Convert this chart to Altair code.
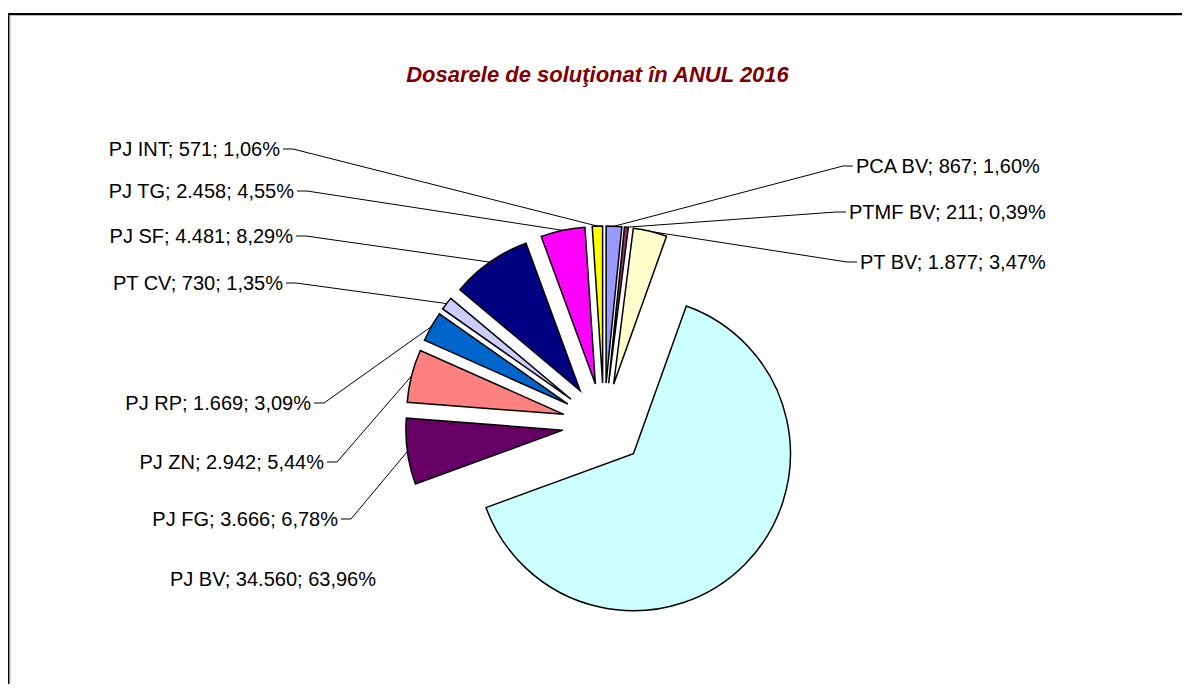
import altair as alt
import pandas as pd

# ---------------- data ----------------
categories = ["PCA BV", "PTMF BV", "PT BV", "PJ BV", "PJ FG", "PJ ZN",
              "PJ RP", "PT CV", "PJ SF", "PJ TG", "PJ INT"]
values = [867, 211, 1877, 34560, 3666, 2942, 1669, 730, 4481, 2458, 571]
colors = ["#9999FF", "#993366", "#FFFFCC", "#CCFFFF", "#660066", "#FF8080",
          "#0066CC", "#CCCCFF", "#000080", "#FF00FF", "#FFFF00"]
title_text = "Dosarele de soluţionat în ANUL 2016"

# ---------------- layout (pixels inside the chart) ----------------
W, H = 1174, 676
CX, CY = 596, 416.5          # pie centre
R = 157                      # pie radius
EXPLODE = 41.5               # explosion distance of every slice
# label anchor: inner text edge x and centre y; side of the pie the label sits on
label_edge_x = [848, 841, 852, 368, 330, 316, 303, 275, 285, 286, 272]
label_y = [159, 205, 255, 572, 512, 455, 396, 276, 229, 184, 142]
label_side = ["R", "R", "R", "L", "L", "L", "L", "L", "L", "L", "L"]
has_leader = [True, True, True, False, True, True, True, True, True, True, True]

df = pd.DataFrame({
    "idx": list(range(len(categories))),
    "cat": categories,
    "value": values,
    "lx": label_edge_x,
    "ly": label_y,
    "side": label_side,
    "lead": has_leader,
})

base = (
    alt.Chart(df)
    .transform_window(cum="sum(value)", frame=[None, 0], sort=[alt.SortField("idx")])
    .transform_joinaggregate(total="sum(value)")
    .transform_calculate(
        t1="datum.cum / datum.total * 2 * PI",
        t0="(datum.cum - datum.value) / datum.total * 2 * PI",
        mid="(datum.t0 + datum.t1) / 2",
        ax=f"{CX} + {EXPLODE} * sin(datum.mid)",
        ay=f"{CY} - {EXPLODE} * cos(datum.mid)",
        sx=f"datum.ax + {R} * sin(datum.mid)",
        sy=f"datum.ay - {R} * cos(datum.mid)",
        pct="datum.value / datum.total * 100",
        label="datum.cat + '; ' + replace(format(datum.value, ','), ',', '.') + '; ' + replace(format(datum.pct, '.2f'), '.', ',') + '%'",
        dir="datum.side == 'R' ? -1 : 1",
        tx0="datum.lx + datum.dir * 3",
        tx1="datum.lx + datum.dir * 13",
        tyl="datum.ly - 1",
    )
)

pie = base.mark_arc(outerRadius=R, innerRadius=0, stroke="black", strokeWidth=1.5).encode(
    x=alt.X("ax:Q", scale=None, axis=None),
    y=alt.Y("ay:Q", scale=None, axis=None),
    theta=alt.Theta("t0:Q", scale=None, stack=False),
    theta2=alt.Theta2("t1:Q"),
    color=alt.Color("cat:N", scale=alt.Scale(domain=categories, range=colors), legend=None),
)

leader_base = base.transform_filter("datum.lead")
ticks = leader_base.mark_rule(color="black", strokeWidth=1).encode(
    x=alt.X("tx0:Q", scale=None, axis=None),
    x2="tx1:Q",
    y=alt.Y("tyl:Q", scale=None, axis=None),
)
diag = leader_base.mark_rule(color="black", strokeWidth=1).encode(
    x=alt.X("tx1:Q", scale=None, axis=None),
    y=alt.Y("tyl:Q", scale=None, axis=None),
    x2="sx:Q",
    y2="sy:Q",
)

FONT = "Liberation Sans"
LABEL_SIZE = 20
lab_left = base.transform_filter("datum.side == 'L'").mark_text(
    align="right", baseline="middle", font=FONT, fontSize=LABEL_SIZE, color="black"
).encode(
    x=alt.X("lx:Q", scale=None, axis=None),
    y=alt.Y("ly:Q", scale=None, axis=None),
    text="label:N",
)
lab_right = base.transform_filter("datum.side == 'R'").mark_text(
    align="left", baseline="middle", font=FONT, fontSize=LABEL_SIZE, color="black"
).encode(
    x=alt.X("lx:Q", scale=None, axis=None),
    y=alt.Y("ly:Q", scale=None, axis=None),
    text="label:N",
)

title = alt.Chart(pd.DataFrame({"t": [title_text]})).mark_text(
    align="center", baseline="middle", font=FONT, fontSize=22,
    fontStyle="italic", fontWeight="bold", color="#800000"
).encode(x=alt.value(589.5), y=alt.value(67), text="t:N")

frame_df = pd.DataFrame({"k": [0]})
top_line = alt.Chart(frame_df).mark_rule(color="black", strokeWidth=2).encode(
    x=alt.value(0), x2=alt.value(W), y=alt.value(6))
top_shadow = alt.Chart(frame_df).mark_rule(color="#BFBFBF", strokeWidth=1).encode(
    x=alt.value(2), x2=alt.value(W), y=alt.value(7.5))
left_line = alt.Chart(frame_df).mark_rule(color="black", strokeWidth=1.5).encode(
    x=alt.value(0.5), y=alt.value(5), y2=alt.value(H))
left_shadow = alt.Chart(frame_df).mark_rule(color="#7F7F7F", strokeWidth=1).encode(
    x=alt.value(1.8), y=alt.value(7), y2=alt.value(H))

chart = (
    alt.layer(top_line, top_shadow, left_line, left_shadow, diag, ticks, pie,
              lab_left, lab_right, title)
    .properties(width=W, height=H, padding=0,
                autosize=alt.AutoSizeParams(type="none"))
    .configure_view(strokeWidth=0)
)

chart.save("out.html", embed_options={"renderer": "svg", "actions": False})
